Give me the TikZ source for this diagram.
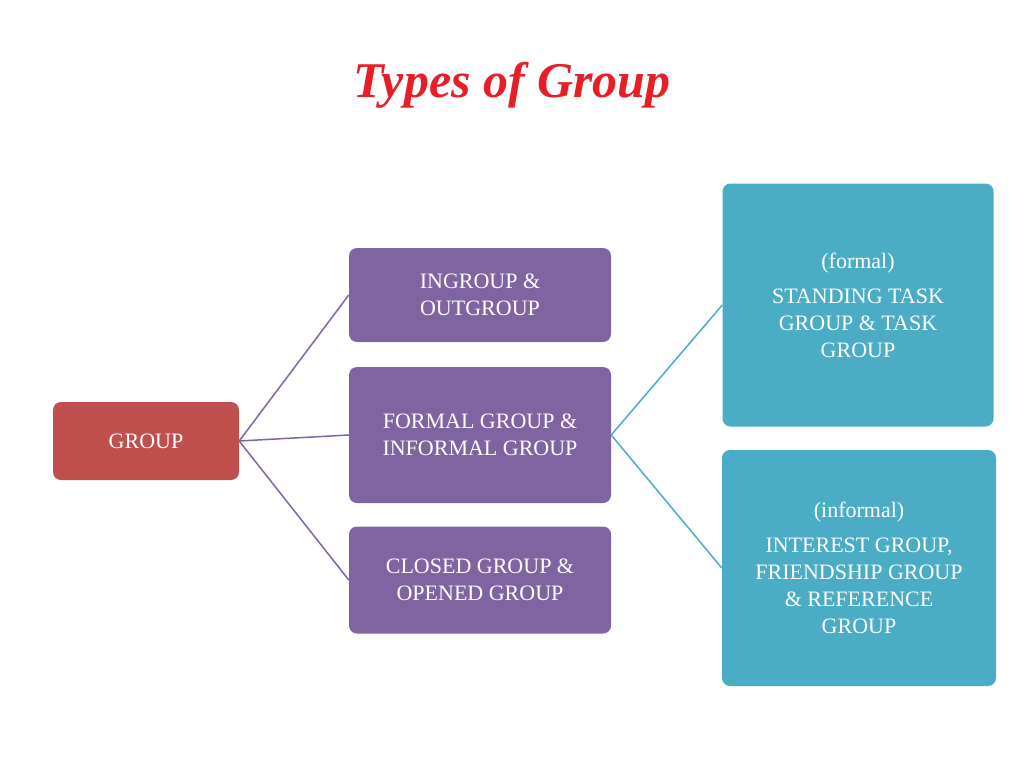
\documentclass[tikz,border=0pt]{standalone}
\usepackage{fontspec}
\setmainfont{Liberation Serif}
\begin{document}
\begin{tikzpicture}[x=1pt,y=-1pt,
 bx/.style={rounded corners=8pt,text=white,align=center,font=\fontsize{22}{27}\selectfont,inner sep=0pt},
 red/.style={bx,fill={rgb,255:red,192;green,80;blue,77}},
 pur/.style={bx,fill={rgb,255:red,128;green,100;blue,162}},
 teal/.style={bx,fill={rgb,255:red,75;green,172;blue,198}},
 pl/.style={draw={rgb,255:red,128;green,100;blue,162},line width=1.5pt},
 tl/.style={draw={rgb,255:red,75;green,172;blue,198},line width=1.5pt}]
\useasboundingbox (0,0) rectangle (1024,768);
\node[text={rgb,255:red,230;green,30;blue,40},font=\fontsize{50}{56}\selectfont\bfseries\itshape] (title) at (512,85) {Types of Group};
\node[red,minimum width=186pt,minimum height=78pt] (g) at (146,441) {GROUP};
\node[pur,minimum width=262pt,minimum height=94pt] (a) at (480,295) {INGROUP \&\\OUTGROUP};
\node[pur,minimum width=262pt,minimum height=136pt] (b) at (480,435) {FORMAL GROUP \&\\INFORMAL GROUP};
\node[pur,minimum width=262pt,minimum height=107pt] (c) at (480,580) {CLOSED GROUP \&\\OPENED GROUP};
\node[teal,minimum width=271pt,minimum height=243pt] (f) at (858,305) {(formal)\\[8pt]STANDING TASK\\GROUP \& TASK\\GROUP};
\node[teal,minimum width=274pt,minimum height=236pt] (i) at (859,568) {(informal)\\[8pt]INTEREST GROUP,\\FRIENDSHIP GROUP\\\& REFERENCE\\GROUP};
\draw[pl] (g.east) -- (a.west);
\draw[pl] (g.east) -- (b.west);
\draw[pl] (g.east) -- (c.west);
\draw[tl] (b.east) -- (f.west);
\draw[tl] (b.east) -- (i.west);
\end{tikzpicture}
\end{document}
